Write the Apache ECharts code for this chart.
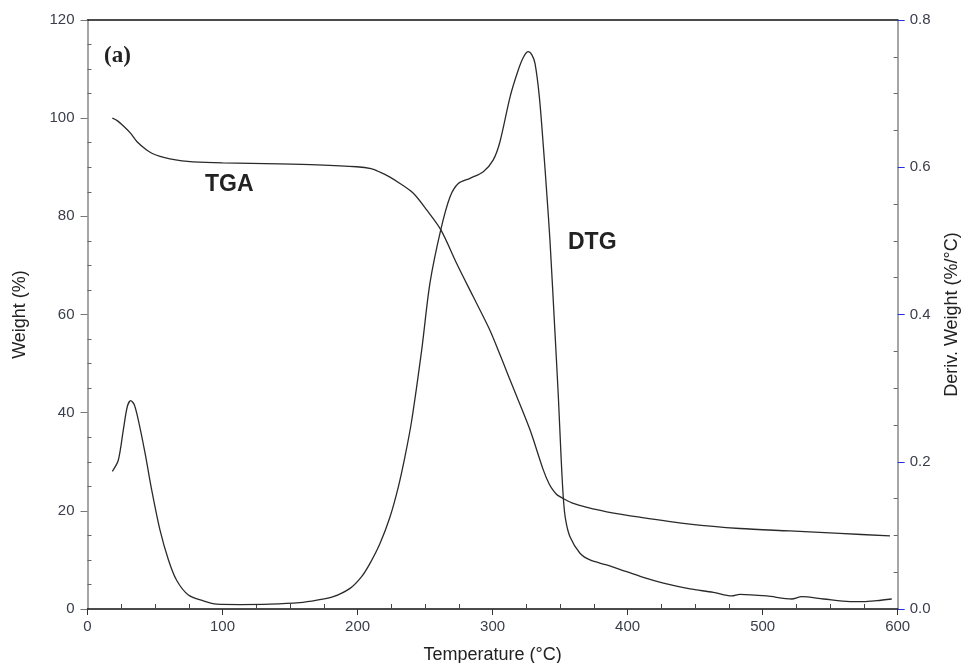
<!DOCTYPE html>
<html>
<head>
<meta charset="utf-8">
<script src="https://cdn.jsdelivr.net/npm/echarts@6/dist/echarts.min.js"></script>
<style>html,body{margin:0;padding:0;background:#fff}#c{width:961px;height:663px}</style>
</head>
<body>
<div id="c"></div>
<script>
// Temperature (°C) and weight (%) for TGA
const tgaT = [18.4,22,27,32,36.7,43.8,48,53.7,61,70,78,100,142,170,199.3,210,216.6,224,231.4,241.3,251.2,261.8,273.4,285.7,298,305.5,311,317.9,327.7,337.6,342,345.3,348,352.4,359.8,370,384.5,409,446,483,520,557,594.3];
const tgaW = [100,99.5,98.3,96.9,95.2,93.5,92.8,92.2,91.7,91.3,91.1,90.9,90.7,90.5,90.1,89.7,89.0,88.0,86.7,84.7,81.3,77.2,70.4,63.6,56.8,51.8,48,43.3,36.5,28.3,25.4,24.0,23.2,22.5,21.5,20.7,19.8,18.7,17.3,16.4,15.9,15.4,14.9];
// Temperature (°C) and derivative weight (%/°C) for DTG
const dtgT = [18.4,22.8,26.5,29.5,32,34.5,37.6,42.6,47.5,53.7,59.9,66,74.7,85.8,95.7,113,135,157,170,182,194.4,203,209.2,216.6,224,230.2,235.1,240,247.5,253.6,261.6,268.5,274.6,283.3,293.1,300.5,305.5,313,319,323,326.4,329,331.4,334.6,337.6,340.1,342.5,346.2,348.7,350.7,352.4,354,357.3,364.7,372.1,384.5,399.3,414.1,428.9,446.2,463.5,477,483.2,503,521.5,528.9,545,564.7,574.5,584.4,595.6];
const dtgD = [0.187,0.202,0.243,0.275,0.283,0.278,0.257,0.212,0.162,0.107,0.067,0.039,0.019,0.011,0.0065,0.006,0.0065,0.0086,0.012,0.0167,0.028,0.044,0.062,0.089,0.125,0.166,0.207,0.255,0.352,0.4425,0.515,0.560,0.578,0.585,0.594,0.610,0.635,0.696,0.732,0.750,0.757,0.753,0.741,0.696,0.628,0.565,0.500,0.375,0.288,0.207,0.150,0.122,0.098,0.0757,0.0666,0.0598,0.0507,0.0417,0.034,0.0272,0.0227,0.0177,0.020,0.0177,0.0136,0.0167,0.0136,0.010,0.010,0.0113,0.0136];

const tgaData = tgaT.map((t, i) => [t, tgaW[i]]);
const dtgData = dtgT.map((t, i) => [t, dtgD[i]]);

const labelStyle = { color: '#3a3d4a', fontSize: 15, fontFamily: 'Liberation Sans, Arial, sans-serif' };
const nameStyle = { color: '#222', fontSize: 18, fontFamily: 'Liberation Sans, Arial, sans-serif' };

const chart = echarts.init(document.getElementById('c'), null, { renderer: 'canvas' });
chart.setOption({
  animation: false,
  backgroundColor: '#fff',
  grid: { left: 87.5, right: 63.3, top: 20, bottom: 54, containLabel: false, outerBoundsMode: 'none' },
  xAxis: [{
    type: 'value', min: 0, max: 600, interval: 100, position: 'bottom',
    name: 'Temperature (°C)', nameLocation: 'middle', nameGap: 37, nameTextStyle: nameStyle,
    axisLine: { show: true, onZero: false, lineStyle: { color: '#111', width: 1.5 } },
    axisTick: { show: true, inside: false, length: 6, lineStyle: { color: '#333' } },
    minorTick: { show: true, splitNumber: 4, length: -5, lineStyle: { color: '#444' } },
    axisLabel: Object.assign({ margin: 10 }, labelStyle),
    splitLine: { show: false }
  }, {
    type: 'value', min: 0, max: 600, position: 'top',
    axisLine: { show: true, onZero: false, lineStyle: { color: '#111', width: 1.5 } },
    axisTick: { show: false }, axisLabel: { show: false }, splitLine: { show: false }
  }],
  yAxis: [{
    type: 'value', min: 0, max: 120, interval: 20, position: 'left',
    name: 'Weight (%)', nameLocation: 'middle', nameGap: 58, nameRotate: 90, nameTextStyle: nameStyle,
    axisLine: { show: true, onZero: false, lineStyle: { color: '#888', width: 1.5 } },
    axisTick: { show: true, inside: false, length: 7, lineStyle: { color: '#777' } },
    minorTick: { show: true, splitNumber: 4, length: -4, lineStyle: { color: '#666' } },
    axisLabel: Object.assign({ margin: 13 }, labelStyle),
    splitLine: { show: false }
  }, {
    type: 'value', min: 0, max: 0.8, interval: 0.2, position: 'right',
    name: 'Deriv. Weight (%/°C)', nameLocation: 'middle', nameGap: 45, nameRotate: 90, nameTextStyle: nameStyle,
    axisLine: { show: true, onZero: false, lineStyle: { color: '#888', width: 1.5 } },
    axisTick: { show: true, inside: false, length: 7, lineStyle: { color: '#2233dd' } },
    minorTick: { show: true, splitNumber: 4, length: -4, lineStyle: { color: '#666' } },
    axisLabel: Object.assign({ margin: 12, formatter: v => v.toFixed(1) }, labelStyle),
    splitLine: { show: false }
  }],
  series: [{
    name: 'TGA', type: 'line', xAxisIndex: 0, yAxisIndex: 0, data: tgaData,
    showSymbol: false, symbol: 'none', smooth: 0.3,
    lineStyle: { color: '#2a2a2a', width: 1.3 }
  }, {
    name: 'DTG', type: 'line', xAxisIndex: 0, yAxisIndex: 1, data: dtgData,
    showSymbol: false, symbol: 'none', smooth: 0.3,
    lineStyle: { color: '#2a2a2a', width: 1.3 }
  }],
  graphic: [
    { type: 'text', left: 104, top: 45, style: { text: '(a)', fill: '#222', font: 'bold 23px "Liberation Serif", "DejaVu Serif", serif' } },
    { type: 'text', left: 205, top: 173, style: { text: 'TGA', fill: '#222', font: 'bold 23px "Liberation Sans", Arial, sans-serif' } },
    { type: 'text', left: 568, top: 231, style: { text: 'DTG', fill: '#222', font: 'bold 23px "Liberation Sans", Arial, sans-serif' } }
  ]
});
</script>
</body>
</html>
